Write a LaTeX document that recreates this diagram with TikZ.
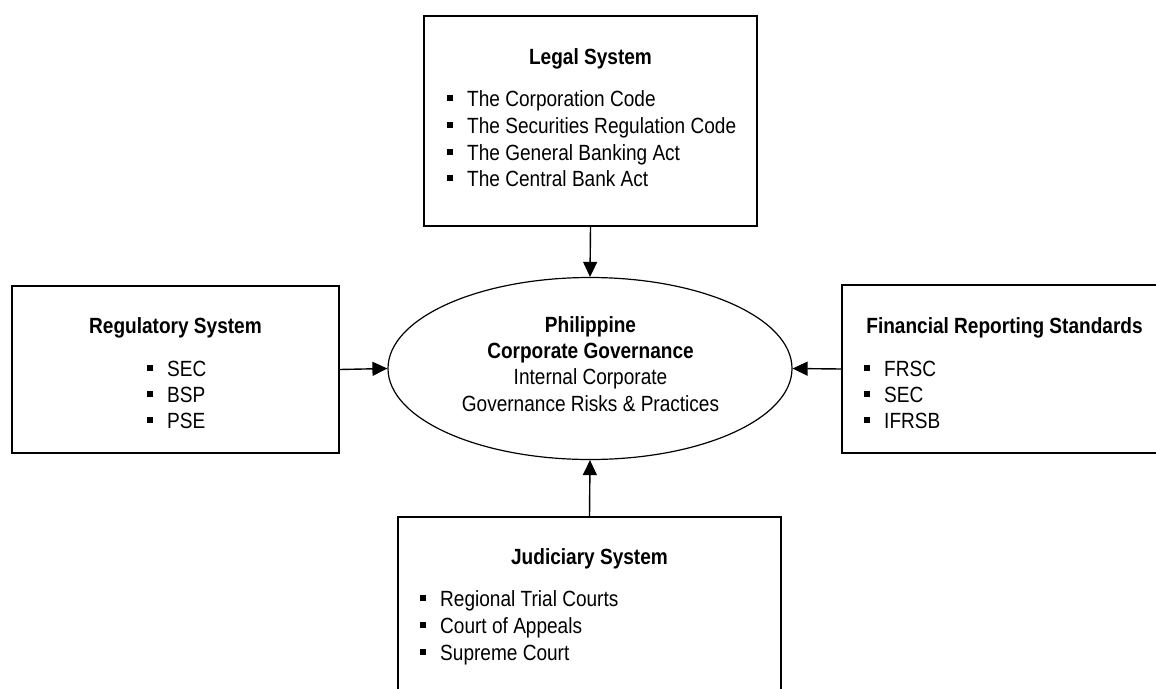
\documentclass[tikz,border=0pt]{standalone}
\usepackage{fontspec}
\setmainfont[FakeStretch=0.866]{Liberation Sans}
\usetikzlibrary{shapes.geometric,arrows.meta}
\newcommand{\itm}[1]{\makebox[20pt][l]{\rule[5.5pt]{6pt}{6pt}}#1}
\tikzset{
  box/.style={draw=black,line width=1.6pt,rectangle,inner sep=0pt,fill=white},
  ttl/.style={inner sep=0pt,anchor=base,font=\fontsize{22}{26}\selectfont\bfseries},
  txt/.style={inner sep=0pt,anchor=base,font=\fontsize{22}{26}\selectfont},
  li/.style={inner sep=0pt,anchor=base west,font=\fontsize{22}{26}\selectfont},
  arr/.style={line width=1.4pt,-{Triangle[length=15pt,width=14pt]}}
}
\begin{document}
\begin{tikzpicture}[x=1pt,y=-1pt]
\useasboundingbox (0,0) rectangle (1156,688);
\fill[white] (0,0) rectangle (1156,688);
% boxes
\node[box,minimum width=333pt,minimum height=210pt] (legal) at (590.5,121) {};
\node[box,minimum width=327pt,minimum height=167pt] (reg) at (175.5,369.5) {};
\node[box,minimum width=328pt,minimum height=168pt] (fin) at (1006,369) {};
\node[box,minimum width=383pt,minimum height=183pt] (jud) at (589.5,608.5) {};
\node[draw=black,line width=1.2pt,ellipse,minimum width=404pt,minimum height=182pt,inner sep=0pt] (ell) at (590,368.5) {};
% legal
\node[ttl] (lt) at (590.5,64) {Legal System};
\node[li] (l1) at (447,106) {\itm{The Corporation Code}};
\node[li] (l2) at (447,133) {\itm{The Securities Regulation Code}};
\node[li] (l3) at (447,160) {\itm{The General Banking Act}};
\node[li] (l4) at (447,186) {\itm{The Central Bank Act}};
% regulatory
\node[ttl] (rt) at (175.5,333) {Regulatory System};
\node[li] (r1) at (147,376) {\itm{SEC}};
\node[li] (r2) at (147,402) {\itm{BSP}};
\node[li] (r3) at (147,428) {\itm{PSE}};
% financial
\node[ttl] (ft) at (1004.5,333) {Financial Reporting Standards};
\node[li] (f1) at (864,376) {\itm{FRSC}};
\node[li] (f2) at (864,402) {\itm{SEC}};
\node[li] (f3) at (864,428) {\itm{IFRSB}};
% judiciary
\node[ttl] (jt) at (589.5,564) {Judiciary System};
\node[li] (j1) at (420,606) {\itm{Regional Trial Courts}};
\node[li] (j2) at (420,633) {\itm{Court of Appeals}};
\node[li] (j3) at (420,660) {\itm{Supreme Court}};
% ellipse text
\node[ttl] (e1) at (590.5,332) {Philippine};
\node[ttl] (e2) at (590.5,358) {Corporate Governance};
\node[txt] (e3) at (590.5,384) {Internal Corporate};
\node[txt] (e4) at (590.5,411) {Governance Risks \& Practices};
% arrows
\draw[arr] (legal.south) -- (ell.north);
\draw[arr] (reg.east) -- (ell.west);
\draw[arr] (fin.west) -- (ell.east);
\draw[arr] (jud.north) -- (ell.south);
\end{tikzpicture}
\end{document}
